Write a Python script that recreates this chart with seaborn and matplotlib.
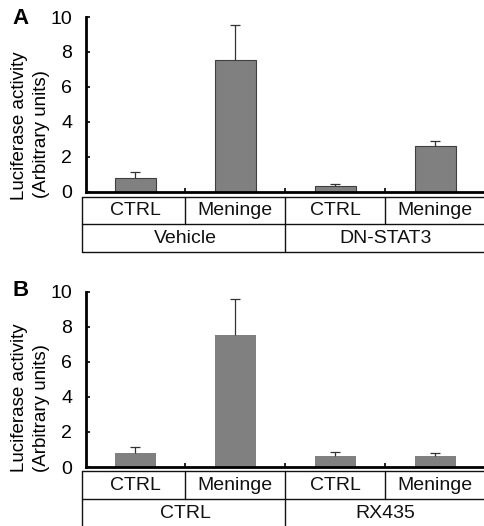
import matplotlib
matplotlib.use("Agg")
import matplotlib.pyplot as plt
import matplotlib.transforms as mtransforms
import seaborn as sns
import pandas as pd
import numpy as np

# ---- data ----
conditions = ["CTRL", "Meninge", "CTRL", "Meninge"]
groups_a = ["Vehicle", "DN-STAT3"]
values_a = [0.80, 7.52, 0.29, 2.58]
errors_a = [0.30, 2.00, 0.13, 0.29]
groups_b = ["CTRL", "RX435"]
values_b = [0.81, 7.52, 0.64, 0.64]
errors_b = [0.31, 2.05, 0.21, 0.17]
yticks = [0, 2, 4, 6, 8, 10]
ylabel1 = "Luciferase activity"
ylabel2 = "(Arbitrary units)"
panel_labels = ["A", "B"]

sns.set_style("ticks")
plt.rcParams["font.family"] = ["Liberation Sans", "DejaVu Sans"]
plt.rcParams["text.color"] = "black"
plt.rcParams["ytick.color"] = "black"
plt.rcParams["xtick.color"] = "black"
plt.rcParams["axes.edgecolor"] = "black"

W, H = 485, 526
fig = plt.figure(figsize=(W / 100, H / 100), dpi=100)

def fx(px):
    return px / W

def fy(py):
    return 1 - py / H

panels = [
    dict(top=17.0, zero=191.5, values=values_a, errors=errors_a, groups=groups_a,
         edge="#404040", label=panel_labels[0], label_y=19, yl1=126, yl2=134,
         t_top=196.7, t_mid=224.3, t_bot=251.7),
    dict(top=291.5, zero=467.0, values=values_b, errors=errors_b, groups=groups_b,
         edge="none", label=panel_labels[1], label_y=291, yl1=398, yl2=408,
         t_top=470.7, t_mid=499.3, t_bot=None),
]

for p in panels:
    left_px, right_px = 85.5, 485
    ax = fig.add_axes([fx(left_px), fy(p["zero"]), fx(right_px - left_px),
                       (p["zero"] - p["top"]) / H])
    df = pd.DataFrame({"pos": [str(i) for i in range(4)], "val": p["values"]})
    sns.barplot(data=df, x="pos", y="val", ax=ax, color="#808080",
                saturation=1, width=0.41, errorbar=None,
                edgecolor=p["edge"], linewidth=0.8 if p["edge"] != "none" else 0)
    eb = ax.errorbar(np.arange(4), p["values"], yerr=[np.zeros(4), p["errors"]],
                     fmt="none", ecolor="#333333", elinewidth=0.9, capsize=3.5,
                     capthick=0.9)
    caps = eb.lines[1]
    if len(caps) == 2:
        caps[0].set_visible(False)
    ax.set_xlim(-0.5, 3.5)
    ax.set_ylim(0, 10)
    ax.set_yticks(yticks)
    ax.set_yticklabels([str(t) for t in yticks], fontsize=14)
    ax.set_xticks([0.5, 1.5, 2.5])
    ax.set_xticklabels([])
    ax.tick_params(axis="y", direction="in", length=3, width=1.2, pad=9.5)
    ax.tick_params(axis="x", direction="in", length=3, width=1.2)
    ax.set_xlabel("")
    ax.set_ylabel("")
    for s in ["top", "right"]:
        ax.spines[s].set_visible(False)
    ax.spines["left"].set_linewidth(2)
    ax.spines["bottom"].set_linewidth(2)

    # table under the axis
    hpx = p["zero"] - p["top"]
    def ay(py):
        return -(py - p["zero"]) / hpx
    trans = mtransforms.blended_transform_factory(ax.transData, ax.transAxes)
    x_left = -0.5 - 3.8 / 100
    lc = "#111111"
    lw = 1.0
    kw = dict(transform=trans, clip_on=False, color=lc, linewidth=lw)
    ax.plot([x_left, 3.5], [ay(p["t_top"])] * 2, **kw)
    ax.plot([x_left, 3.5], [ay(p["t_mid"])] * 2, **kw)
    bot = p["t_bot"] if p["t_bot"] is not None else H + 5
    if p["t_bot"] is not None:
        ax.plot([x_left, 3.5], [ay(bot)] * 2, **kw)
    ax.plot([x_left, x_left], [ay(p["t_top"]), ay(bot)], **kw)
    ax.plot([1.5, 1.5], [ay(p["t_top"]), ay(bot)], **kw)
    for xb in [0.5, 2.5]:
        ax.plot([xb, xb], [ay(p["t_top"]), ay(p["t_mid"])], **kw)
    row1 = (ay(p["t_top"]) + ay(p["t_mid"])) / 2
    row2 = ay(p["t_mid"] + 14.5)
    for i, c in enumerate(conditions):
        ax.text(i, row1, c, transform=trans, ha="center", va="center",
                fontsize=14, color="#111111")
    for j, g in enumerate(p["groups"]):
        ax.text(0.5 + 2 * j, row2, g, transform=trans, ha="center",
                va="center", fontsize=14, color="#111111")

    fig.text(fx(20.5), fy(p["label_y"]), p["label"], fontsize=16,
             fontweight="bold", ha="center", va="center")
    fig.text(fx(20), fy(p["yl1"]), ylabel1, rotation=90, fontsize=13.5,
             ha="center", va="center")
    fig.text(fx(41), fy(p["yl2"]), ylabel2, rotation=90, fontsize=13.5,
             ha="center", va="center")

fig.savefig("out.png", dpi=100)
